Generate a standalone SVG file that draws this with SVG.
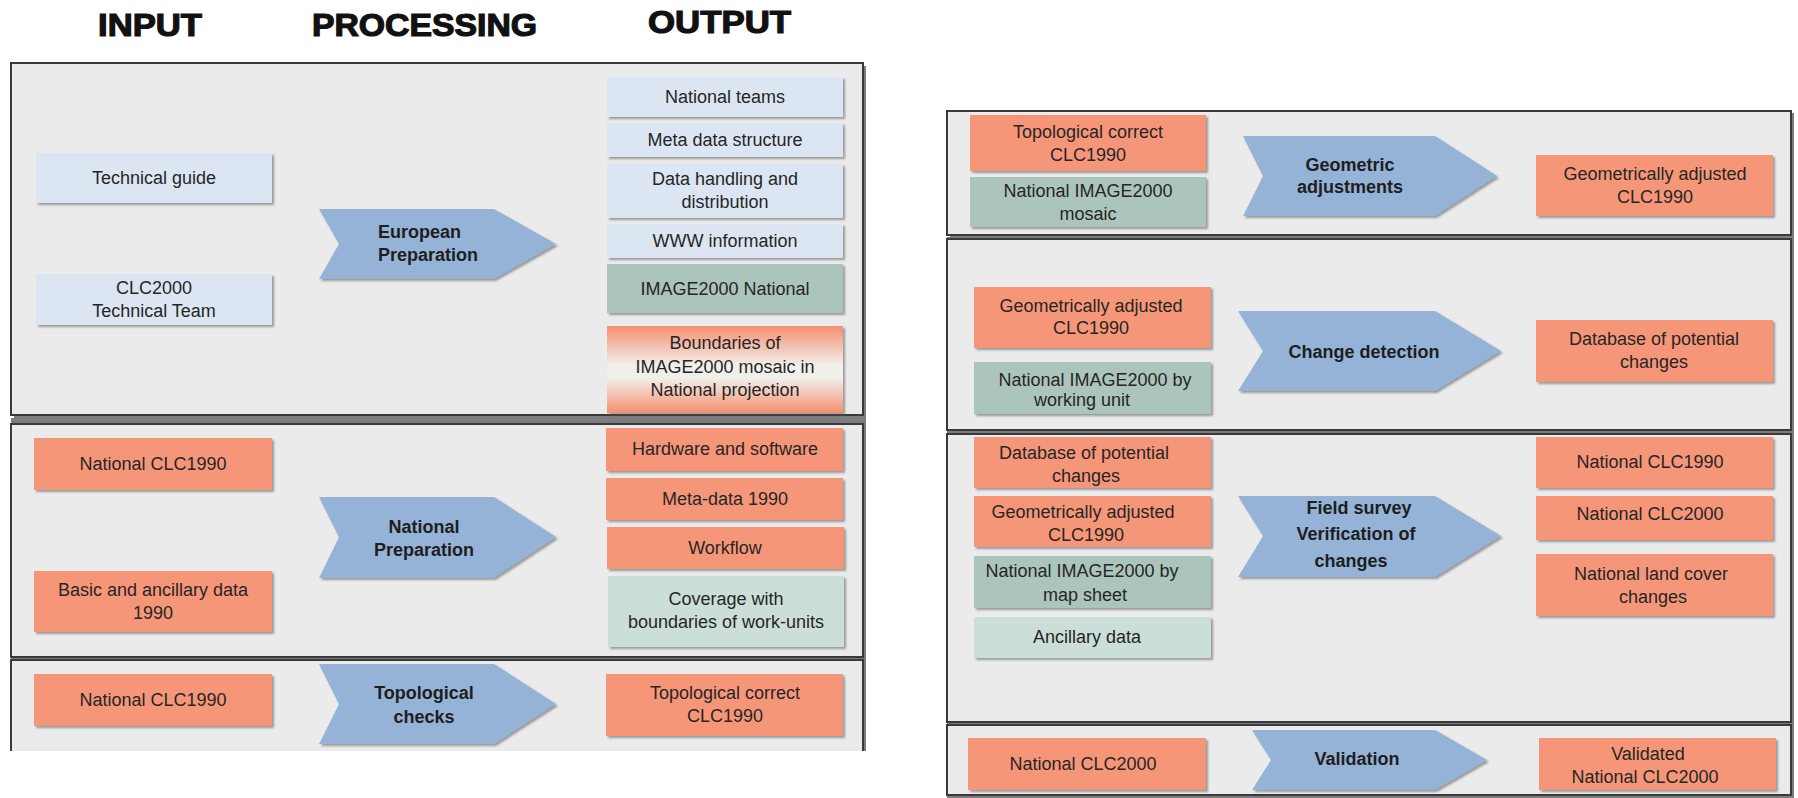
<svg xmlns="http://www.w3.org/2000/svg" width="1798" height="798" viewBox="0 0 1798 798">
<defs>
<filter id="sh" x="-5%" y="-10%" width="115%" height="130%">
<feDropShadow dx="2" dy="2" stdDeviation="1" flood-color="#555" flood-opacity="0.55"/>
</filter>
<linearGradient id="grad" x1="0" y1="0" x2="0" y2="1">
<stop offset="0" stop-color="#f68e6f"/>
<stop offset="0.45" stop-color="#f1efea"/>
<stop offset="0.6" stop-color="#f1efea"/>
<stop offset="1" stop-color="#f68e6f"/>
</linearGradient>
<style>
.panel{fill:#ebebeb;stroke:#3a3a3a;stroke-width:2}
.pshadow{fill:#7d7d7d}
.bx{filter:url(#sh)}
.blue{fill:#dce6f2}
.org{fill:#f69679}
.teal{fill:#abc5bc}
.lteal{fill:#cbdfd8}
.arr{fill:#95b3d7;filter:url(#sh)}
text{font-family:"Liberation Sans",Arial,sans-serif;fill:#262626}
.t{font-size:18px;text-anchor:middle}
.a{font-size:18px;font-weight:bold;text-anchor:middle;fill:#1e1e1e}
.h{font-size:31px;font-weight:bold;fill:#111;stroke:#111;stroke-width:1.2}
</style>
</defs>

<g id="headers">
<text class="h" x="98" y="36" textLength="104" lengthAdjust="spacingAndGlyphs">INPUT</text>
<text class="h" x="312" y="36" textLength="225" lengthAdjust="spacingAndGlyphs">PROCESSING</text>
<text class="h" x="648" y="33" textLength="143" lengthAdjust="spacingAndGlyphs">OUTPUT</text>
</g>

<g id="panels">
<rect class="pshadow" x="14" y="66" width="852" height="352"/>
<rect class="panel" x="11" y="63" width="852" height="352"/>
<rect class="pshadow" x="11" y="418" width="855" height="242"/>
<rect class="panel" x="11" y="424" width="852" height="233"/>
<rect class="pshadow" x="11" y="658" width="855" height="93"/>
<rect x="11" y="660" width="852" height="91" fill="#ebebeb"/>
<path d="M11 751 V660 H863 V751" fill="none" stroke="#3a3a3a" stroke-width="2"/>
<rect class="pshadow" x="950" y="113" width="844" height="125"/>
<rect class="panel" x="947" y="111" width="844" height="124"/>
<rect class="pshadow" x="947" y="237" width="847" height="196"/>
<rect class="panel" x="947" y="239" width="844" height="191"/>
<rect class="pshadow" x="947" y="432" width="847" height="293"/>
<rect class="panel" x="947" y="434" width="844" height="288"/>
<rect class="pshadow" x="947" y="723" width="847" height="75"/>
<rect class="panel" x="947" y="725" width="844" height="70"/>
</g>

<g id="connectors"></g>

<g id="n-technical-guide"><rect class="bx blue" x="36" y="153" width="236" height="50"/><text class="t" x="154" y="184">Technical guide</text></g>
<g id="n-clc2000-team"><rect class="bx blue" x="36" y="274" width="236" height="51"/><text class="t" x="154" y="294">CLC2000</text><text class="t" x="154" y="317">Technical Team</text></g>
<g id="n-european-prep"><polygon class="arr" points="319,209 494,209 556,244 494,279 319,279 339,244"/><text class="a" x="378" y="238" style="text-anchor:start">European</text><text class="a" x="378" y="261" style="text-anchor:start">Preparation</text></g>
<g id="n-national-teams"><rect class="bx blue" x="607" y="77" width="236" height="40"/><text class="t" x="725" y="103">National teams</text></g>
<g id="n-meta-structure"><rect class="bx blue" x="607" y="123" width="236" height="34"/><text class="t" x="725" y="146">Meta data structure</text></g>
<g id="n-data-handling"><rect class="bx blue" x="607" y="164" width="236" height="54"/><text class="t" x="725" y="185">Data handling and</text><text class="t" x="725" y="208">distribution</text></g>
<g id="n-www"><rect class="bx blue" x="607" y="224" width="236" height="34"/><text class="t" x="725" y="247">WWW information</text></g>
<g id="n-image2000-national"><rect class="bx teal" x="607" y="264" width="236" height="49"/><text class="t" x="725" y="295">IMAGE2000 National</text></g>
<g id="n-boundaries"><rect class="bx" fill="url(#grad)" x="607" y="326" width="236" height="87"/><text class="t" x="725" y="349">Boundaries of</text><text class="t" x="725" y="373">IMAGE2000 mosaic in</text><text class="t" x="725" y="396">National projection</text></g>

<g id="n-national-clc1990-a"><rect class="bx org" x="34" y="438" width="238" height="52"/><text class="t" x="153" y="470">National CLC1990</text></g>
<g id="n-basic-ancillary"><rect class="bx org" x="34" y="571" width="238" height="61"/><text class="t" x="153" y="596">Basic and ancillary data</text><text class="t" x="153" y="619">1990</text></g>
<g id="n-national-prep"><polygon class="arr" points="319,497 494,497 556,537 494,578 319,578 339,537"/><text class="a" x="424" y="533">National</text><text class="a" x="424" y="556">Preparation</text></g>
<g id="n-hardware"><rect class="bx org" x="606" y="428" width="237" height="43"/><text class="t" x="725" y="455">Hardware and software</text></g>
<g id="n-meta1990"><rect class="bx org" x="606" y="478" width="237" height="42"/><text class="t" x="725" y="505">Meta-data 1990</text></g>
<g id="n-workflow"><rect class="bx org" x="607" y="527" width="237" height="42"/><text class="t" x="725" y="554">Workflow</text></g>
<g id="n-coverage"><rect class="bx lteal" x="608" y="576" width="236" height="71"/><text class="t" x="726" y="605">Coverage with</text><text class="t" x="726" y="628">boundaries of work-units</text></g>

<g id="n-national-clc1990-b"><rect class="bx org" x="34" y="674" width="238" height="52"/><text class="t" x="153" y="706">National CLC1990</text></g>
<g id="n-topo-checks"><polygon class="arr" points="319,664 494,664 556,704 494,744 319,744 339,704"/><text class="a" x="424" y="699">Topological</text><text class="a" x="424" y="723">checks</text></g>
<g id="n-topo-correct-a"><rect class="bx org" x="606" y="674" width="237" height="62"/><text class="t" x="725" y="699">Topological correct</text><text class="t" x="725" y="722">CLC1990</text></g>

<g id="n-topo-correct-b"><rect class="bx org" x="970" y="115" width="236" height="56"/><text class="t" x="1088" y="138">Topological correct</text><text class="t" x="1088" y="161">CLC1990</text></g>
<g id="n-image-mosaic"><rect class="bx teal" x="970" y="177" width="236" height="50"/><text class="t" x="1088" y="197">National IMAGE2000</text><text class="t" x="1088" y="220">mosaic</text></g>
<g id="n-geometric"><polygon class="arr" points="1243,136 1435,136 1497,176 1435,216 1243,216 1263,176"/><text class="a" x="1350" y="171">Geometric</text><text class="a" x="1350" y="193">adjustments</text></g>
<g id="n-geo-adj-out"><rect class="bx org" x="1536" y="155" width="237" height="61"/><text class="t" x="1655" y="180">Geometrically adjusted</text><text class="t" x="1655" y="203">CLC1990</text></g>

<g id="n-geo-adj-b"><rect class="bx org" x="974" y="287" width="237" height="61"/><text class="t" x="1091" y="312">Geometrically adjusted</text><text class="t" x="1091" y="334">CLC1990</text></g>
<g id="n-image-working"><rect class="bx teal" x="974" y="362" width="237" height="52"/><text class="t" x="1095" y="386">National IMAGE2000 by</text><text class="t" x="1082" y="406">working unit</text></g>
<g id="n-change-detection"><polygon class="arr" points="1238,311 1435,311 1501,351 1435,391 1238,391 1263,351"/><text class="a" x="1364" y="358">Change detection</text></g>
<g id="n-db-potential-out"><rect class="bx org" x="1536" y="320" width="237" height="62"/><text class="t" x="1654" y="345">Database of potential</text><text class="t" x="1654" y="368">changes</text></g>

<g id="n-db-potential-in"><rect class="bx org" x="974" y="437" width="237" height="51"/><text class="t" x="1084" y="459">Database of potential</text><text class="t" x="1086" y="482">changes</text></g>
<g id="n-geo-adj-c"><rect class="bx org" x="974" y="496" width="237" height="51"/><text class="t" x="1083" y="518">Geometrically adjusted</text><text class="t" x="1086" y="541">CLC1990</text></g>
<g id="n-image-map"><rect class="bx teal" x="974" y="556" width="237" height="52"/><text class="t" x="1082" y="577">National IMAGE2000 by</text><text class="t" x="1085" y="601">map sheet</text></g>
<g id="n-ancillary"><rect class="bx lteal" x="974" y="617" width="237" height="41"/><text class="t" x="1087" y="643">Ancillary data</text></g>
<g id="n-field-survey"><polygon class="arr" points="1238,496 1435,496 1501,536 1435,577 1238,577 1263,536"/><text class="a" x="1359" y="514">Field survey</text><text class="a" x="1356" y="540">Verification of</text><text class="a" x="1351" y="567">changes</text></g>
<g id="n-clc1990-out"><rect class="bx org" x="1536" y="437" width="237" height="51"/><text class="t" x="1650" y="468">National CLC1990</text></g>
<g id="n-clc2000-out"><rect class="bx org" x="1536" y="496" width="237" height="44"/><text class="t" x="1650" y="520">National CLC2000</text></g>
<g id="n-land-cover"><rect class="bx org" x="1536" y="554" width="237" height="62"/><text class="t" x="1651" y="580">National land cover</text><text class="t" x="1653" y="603">changes</text></g>

<g id="n-clc2000-in"><rect class="bx org" x="968" y="738" width="238" height="52"/><text class="t" x="1083" y="770">National CLC2000</text></g>
<g id="n-validation"><polygon class="arr" points="1252,730 1435,730 1487,760 1435,790 1252,790 1271,760"/><text class="a" x="1357" y="765">Validation</text></g>
<g id="n-validated"><rect class="bx org" x="1539" y="738" width="237" height="52"/><text class="t" x="1648" y="760">Validated</text><text class="t" x="1645" y="783">National CLC2000</text></g>
</svg>
